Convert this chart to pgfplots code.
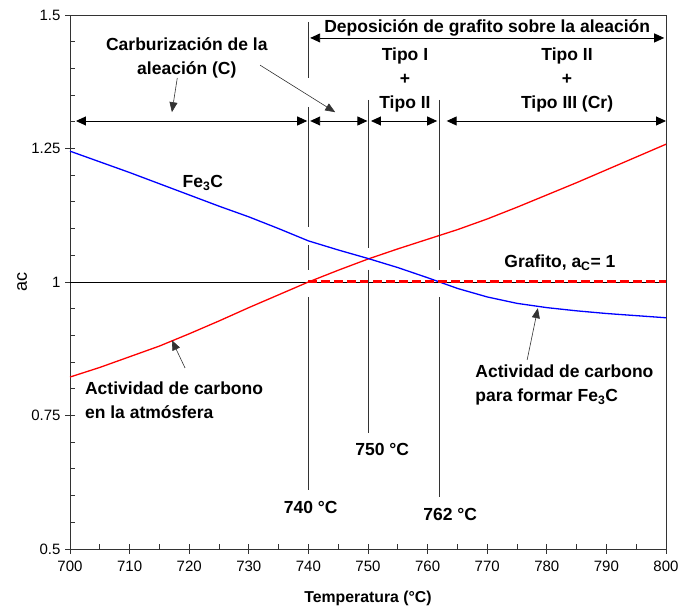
\documentclass[border=0pt]{standalone}
\usepackage{fontspec}
\setmainfont{Liberation Sans}
\usepackage{pgfplots}
\pgfplotsset{compat=1.18}
\usetikzlibrary{arrows.meta}
\begin{document}
\begin{tikzpicture}
\tikzset{
  ann/.style={font=\fontsize{17.5}{24}\selectfont\bfseries, inner sep=0pt},
  vl/.style={draw=black!80, line width=0.9pt},
  arr/.style={line width=0.9pt, {Triangle[length=10pt,width=9pt]}-{Triangle[length=10pt,width=9pt]}},
  sarr/.style={line width=0.6pt, black!80, -{Triangle[length=10pt,width=8pt]}},
}
\begin{axis}[
  scale only axis, width=596pt, height=534pt,
  xmin=700, xmax=800, ymin=0.5, ymax=1.5,
  clip=false,
  axis line style={line width=0.9pt, black!80},
  xtick={700,710,...,800},
  ytick={0.5,0.75,1,1.25,1.5},
  yticklabels={0.5,0.75,1,1.25,1.5},
  minor x tick num=1, minor y tick num=4,
  xtick pos=left, ytick pos=left,
  tick align=center,
  major tick length=10pt, minor tick length=5pt,
  tick style={line width=0.9pt, black!80},
  minor x tick style={yshift=2.5pt},
  minor y tick style={xshift=2.5pt},
  /pgf/number format/assume math mode=true,
  ticklabel style={font=\fontsize{15}{18}\selectfont},
  xticklabel style={yshift=-3pt},
  yticklabel style={xshift=-1pt},
  xlabel={\bfseries Temperatura (°C)},
  xlabel style={font=\fontsize{15.8}{18}\selectfont, at={(axis description cs:0.5,0)}, anchor=center, yshift=-49pt},
  ylabel={ac},
  ylabel style={font=\fontsize{18}{20}\selectfont, at={(axis description cs:-0.0805,0.5)}, anchor=center},
]
% horizontal line at 1
\addplot[black, line width=0.8pt] coordinates {(700,1) (800,1)};
% red: atmosphere activity
\addplot[red, line width=1.3pt] coordinates {
(700,0.822) (705,0.840) (710,0.860) (715,0.880) (720,0.903) (725,0.927)
(730,0.952) (735,0.976) (740,1.000) (745,1.022) (750,1.043) (755,1.062)
(760,1.080) (765,1.098) (770,1.118) (775,1.140) (780,1.163) (785,1.186)
(790,1.210) (795,1.234) (800,1.258)};
% blue: Fe3C
\addplot[blue, line width=1.3pt] coordinates {
(700,1.245) (705,1.225) (710,1.205) (715,1.184) (720,1.163) (725,1.142)
(730,1.122) (735,1.100) (740,1.077) (745,1.060) (750,1.044) (755,1.027)
(760,1.008) (765,0.988) (770,0.972) (775,0.960) (780,0.952) (785,0.946)
(790,0.941) (795,0.937) (800,0.933)};
% red dashed graphite
\addplot[draw=red, line width=3pt, dash pattern=on 9pt off 4pt] coordinates {(740,1) (800,1)};
% vertical lines
\draw[vl] (axis cs:740,1.487) -- (axis cs:740,1.382);
\draw[vl] (axis cs:740,1.328) -- (axis cs:740,1.103);
\draw[vl] (axis cs:740,1.069) -- (axis cs:740,1.022);
\draw[vl] (axis cs:740,0.972) -- (axis cs:740,0.611);
\draw[vl] (axis cs:750,1.341) -- (axis cs:750,1.064);
\draw[vl] (axis cs:750,1.023) -- (axis cs:750,0.717);
\draw[vl] (axis cs:762,1.341) -- (axis cs:762,1.022);
\draw[vl] (axis cs:762,0.972) -- (axis cs:762,0.597);
% top arrow
\draw[arr] (axis cs:740.3,1.457) -- (axis cs:799.7,1.457);
% row arrows
\draw[arr] (axis cs:701,1.3015) -- (axis cs:739.8,1.3015);
\draw[arr] (axis cs:740.3,1.3015) -- (axis cs:749.9,1.3015);
\draw[arr] (axis cs:750.5,1.3015) -- (axis cs:761.6,1.3015);
\draw[arr] (axis cs:763.2,1.3015) -- (axis cs:800,1.3015);
% texts
\node[ann] at (axis cs:770.0,1.476) {Deposición de grafito sobre la aleación};
\node[ann, align=center] at (axis cs:756.2,1.378) {Tipo I\\+\\Tipo II};
\node[ann, align=center] at (axis cs:783.4,1.378) {Tipo II\\+\\Tipo III (Cr)};
\node[ann, align=center] at (axis cs:719.6,1.420) {Carburización de la\\aleación (C)};
\draw[sarr] (axis cs:718.0,1.382) -- (axis cs:717.1,1.318);
\draw[sarr] (axis cs:731.9,1.406) -- (axis cs:744.5,1.318);
\node[ann] at (axis cs:722.3,1.186) {Fe\textsubscript{3}C};
\node[ann] at (axis cs:782.2,1.036) {Grafito, a\textsubscript{C}= 1};
\node[ann, align=left, anchor=west] at (axis cs:768.0,0.807) {Actividad de carbono\\para formar Fe\textsubscript{3}C};
\draw[sarr] (axis cs:776.7,0.854) -- (axis cs:778.5,0.951);
\node[ann, align=left, anchor=west] at (axis cs:702.5,0.778) {Actividad de carbono\\en la atmósfera};
\draw[sarr] (axis cs:719.3,0.839) -- (axis cs:717.1,0.891);
\node[ann] at (axis cs:752.4,0.687) {750 °C};
\node[ann] at (axis cs:740.4,0.577) {740 °C};
\node[ann] at (axis cs:763.8,0.564) {762 °C};
\end{axis}
\pgfresetboundingbox
\useasboundingbox (-70pt,-60pt) rectangle (609pt,549pt);
\end{tikzpicture}
\end{document}
